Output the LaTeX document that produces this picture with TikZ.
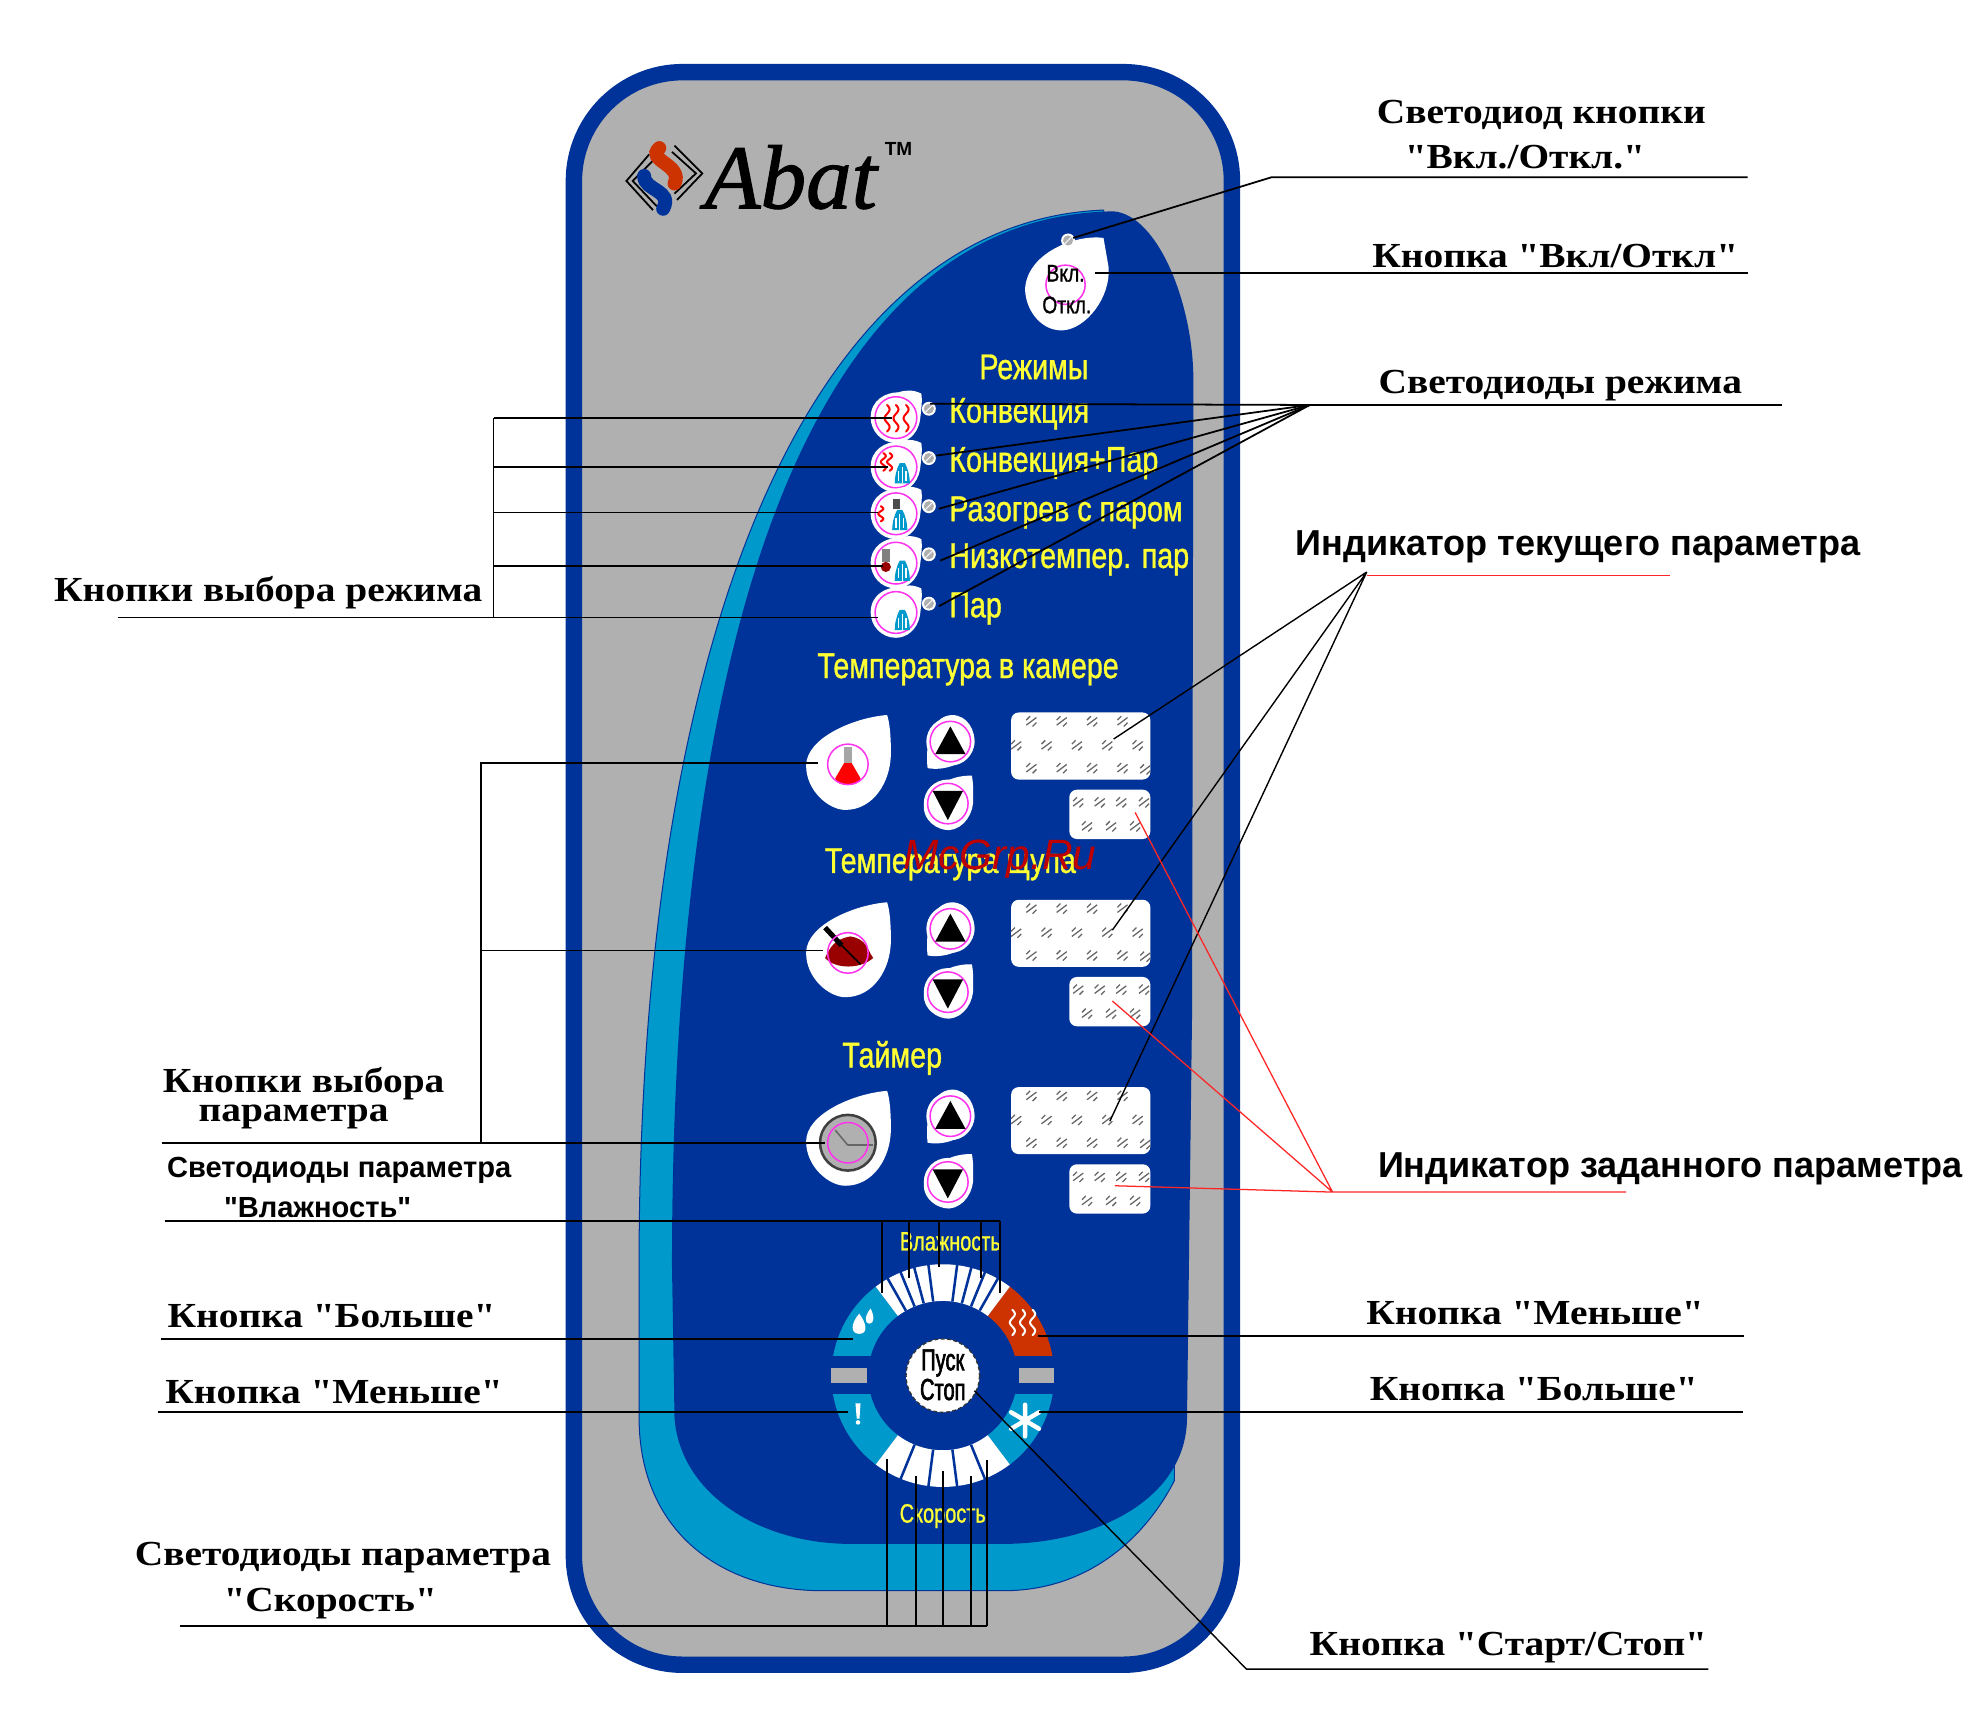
\documentclass[tikz,border=0pt]{standalone}
\usepackage{fontspec}
\setmainfont{Liberation Serif}
\newfontfamily\labfont[FakeStretch=1.12]{Liberation Serif}
\newfontfamily\sansb{Liberation Sans}
\newfontfamily\yfont[FakeStretch=0.8,FakeBold=1]{Liberation Sans}
\newfontfamily\nfont[FakeStretch=0.75,FakeBold=1]{Liberation Sans}
\newfontfamily\bfont[FakeStretch=0.8,FakeBold=1]{Liberation Sans}
\newfontfamily\pfont[FakeStretch=0.66,FakeBold=2]{Liberation Sans}
\newfontfamily\abatfont[FakeBold=1.2]{Liberation Serif}
\definecolor{pblue}{HTML}{003399}
\definecolor{pcyan}{HTML}{0099CC}
\definecolor{pgrey}{HTML}{B0B0B0}
\definecolor{pred}{HTML}{CC3300}
\definecolor{pyel}{HTML}{FFFF33}
\definecolor{pmag}{HTML}{FF33EE}
\tikzset{
  lab/.style={font=\labfont\bfseries\fontsize{27.8}{27.8}\selectfont,inner sep=0pt,yshift=-2pt},
  sbold/.style={font=\sansb\bfseries\fontsize{28.5}{28.5}\selectfont,inner sep=0pt,yshift=-2.5pt},
  smid/.style={font=\sansb\bfseries\fontsize{23}{23}\selectfont,inner sep=0pt,yshift=-2pt},
  ytext/.style={font=\yfont\fontsize{28.3}{28.3}\selectfont,text=pyel,inner sep=0pt,yshift=-2pt},
  ynarrow/.style={font=\nfont\fontsize{21}{21}\selectfont,text=pyel,inner sep=0pt},
  btext/.style={font=\bfont\fontsize{19}{19}\selectfont,inner sep=0pt},
  ptext/.style={font=\pfont\fontsize{24}{24}\selectfont,inner sep=0pt},
  conn/.style={draw=black,line width=1.4pt},
  redconn/.style={draw=red!85,line width=1pt},
  ring/.style={draw=pmag,line width=1.2pt},
}
\newcommand{\wavy}[4]{\draw[#4,line width=1.6pt,line cap=round] plot[domain=0:1,samples=18] ({#1+2*sin(\x*540)},{#2+\x*#3});}
\newcommand{\bigblob}[2]{\fill[white,shift={(#1,#2)}] (31,-38) .. controls (5,-36) and (-33,-20) .. (-33,2) .. controls (-33,22) and (-15,37) .. (-2,37) .. controls (20,37) and (34,15) .. (34,-8) .. controls (34,-22) and (33,-32) .. (31,-38) -- cycle;}
\newcommand{\updown}[2]{%
  \begin{scope}[shift={(0,#1)}]
    \fill[white] (733,607) .. controls (731,590) and (735,566) .. (752,565) .. controls (765,565) and (771,578) .. (770,588) .. controls (768,600) and (750,610) .. (733,607) -- cycle;
    \fill[white] (751,586) circle[radius=19];
    \draw[ring] (751,586) circle[radius=16];
    \fill[black] (751,574) -- (763,596) -- (739,596) -- cycle;
  \end{scope}
  \begin{scope}[shift={(0,#2)}]
    \fill[white] (768,613) .. controls (750,612) and (730,625) .. (730,638) .. controls (730,648) and (740,656) .. (750,656) .. controls (762,655) and (770,642) .. (769,630) .. controls (769,622) and (769,618) .. (768,613) -- cycle;
    \fill[white] (749,635) circle[radius=19];
    \draw[ring] (749,635) circle[radius=16];
    \fill[black] (749,648) -- (761,625) -- (737,625) -- cycle;
  \end{scope}}
\newcommand{\spk}[2]{\draw[black!60,line width=1pt] (#1-4,#2+3) -- (#1+4,#2-3) (#1-4,#2-1) -- (#1-1,#2-4) (#1+1,#2+4) -- (#1+4,#2+1);}
\newcommand{\lcd}[1]{%
  \begin{scope}[shift={(0,#1)}]
    \fill[white,rounded corners=6pt] (799,563) rectangle (909,616);
    \foreach \a in {815,839,863,887} {\spk{\a}{570}\spk{\a}{607}}
    \foreach \a in {803,827,851,875,899} {\spk{\a}{589}}
    \spk{905}{608}
  \end{scope}}
\newcommand{\lcds}[1]{%
  \begin{scope}[shift={(0,#1)}]
    \fill[white,rounded corners=6pt] (845,624) rectangle (909,663);
    \foreach \a in {852,869,886,904} {\spk{\a}{634}}
    \foreach \a in {859,878,897} {\spk{\a}{653}}
  \end{scope}}
\newcommand{\modebtn}[2]{%
  \fill[white,shift={(#1,#2)}] (-20,0) .. controls (-20,-14) and (-8,-20) .. (2,-20) .. controls (8,-22) and (14,-22) .. (20,-19) .. controls (21,-14) and (20,-6) .. (19,2) .. controls (17,14) and (8,20) .. (0,20) .. controls (-12,20) and (-20,10) .. (-20,0) -- cycle;
  \draw[ring,shift={(#1,#2)}] (0,0) circle[radius=16.5];}
\newcommand{\led}[2]{\fill[white] (#1,#2) circle[radius=5.5]; \fill[pgrey] (#1,#2) circle[radius=4]; \draw[white,line width=.7pt] (#1-3,#2+3) -- (#1+3,#2-3);}
\newcommand{\steam}[2]{\fill[pcyan,shift={(#1,#2)}] (-2,-8) -- (2,-8) .. controls (5,-3) and (6,4) .. (6,8) -- (-6,8) .. controls (-6,4) and (-5,-3) .. (-2,-8) -- cycle; \draw[white,line width=1pt,shift={(#1,#2)}] (0,-5) -- (0,8) (-3,-2) -- (-3,6) (3,-2) -- (3,6);}
\newcommand{\seg}[3]{\fill[#3] plot[domain=#1:#2,samples=30] ({745+88*cos(\x)},{1087-88*sin(\x)}) -- plot[domain=#2:#1,samples=30] ({745+59*cos(\x)},{1087-59*sin(\x)}) -- cycle;}
\newcommand{\spoke}[1]{\draw[pblue,line width=2pt] ({745+59*cos(#1)},{1087-59*sin(#1)}) -- ({745+90*cos(#1)},{1087-90*sin(#1)});}
\begin{document}
\begin{tikzpicture}[x=1pt,y=1pt,yscale=-1]
\useasboundingbox (0,0) rectangle (1567,1353);
\fill[white] (0,0) rectangle (1567,1353);
% panel
\draw[pblue,fill=pgrey,line width=13pt,rounded corners=86pt] (453.5,57) rectangle (973.5,1315.5);
% cyan and blue fields
\draw[pblue,line width=.8pt,fill=pcyan] (872,166) .. controls (640,175) and (505,500) .. (505,1000) -- (505,1120) .. controls (505,1210) and (570,1257) .. (650,1257) -- (793,1257) .. controls (860,1257) and (905,1215) .. (928,1170) -- (930,400) -- cycle;
\fill[pblue] (880,167) .. controls (640,170) and (531,500) .. (531,1000) -- (533,1120) .. controls (537,1180) and (600,1220) .. (672,1220) -- (793,1220) .. controls (865,1220) and (938,1185) .. (938,1120) -- (942,800) -- (943,300) .. controls (943,240) and (915,170) .. (880,167) -- cycle;
% logo
\draw[black,line width=1.4pt] (513,122) -- (495,143) -- (516,166) (517,126) -- (500,143) -- (519,163);
\draw[black,line width=1.4pt] (533,115) -- (555,137) -- (535,158) (531,120) -- (550,137) -- (533,153);
\draw[pred,line width=11pt,line cap=round] (521,117) .. controls (510,127) and (540,130) .. (533,145);
\draw[pblue,line width=11pt,line cap=round] (509,139) .. controls (509,151) and (532,150) .. (524,165);
\node[font=\abatfont\itshape\fontsize{72}{72}\selectfont,inner sep=0pt] (abat) at (625,140) {Abat};
\node[font=\sansb\bfseries\fontsize{15}{15}\selectfont,inner sep=0pt] (tm) at (710,118) {ТМ};
% on/off button
\fill[white] (872,188) .. controls (850,185) and (811,200) .. (810,229) .. controls (811,248) and (825,262) .. (840,261) .. controls (858,260) and (878,235) .. (876,211) -- cycle;
\led{844}{190}
\draw[ring] (842,225) circle[radius=15.5];
\node[btext] (vkl) at (842,216) {Вкл.};
\node[btext] (otkl) at (843,241) {Откл.};
% modes
\node[ytext] (rezh) at (817,288) {Режимы};
\foreach \yy/\ly in {330/323,369/362,406/400,445/438,484/477} {\modebtn{708}{\yy}\led{734}{\ly}}
\wavy{701}{320}{21}{red}\wavy{708}{320}{21}{red}\wavy{716}{320}{21}{red}
\wavy{703}{358}{14}{red}\wavy{698}{358}{14}{red}\steam{713}{374}
\wavy{696}{400}{12}{red}\fill[black!70] (706,394) rectangle (711,402);\steam{711}{411}
\fill[black!50] (697,434) rectangle (703,444);\fill[red!60!black] (700,448) circle[radius=4];\steam{713}{451}
\steam{713}{490}
\node[ytext,anchor=west] (t1) at (750,325) {Конвекция};
\node[ytext,anchor=west] (t2) at (750,364) {Конвекция+Пар};
\node[ytext,anchor=west] (t3) at (750,403) {Разогрев с паром};
\node[ytext,anchor=west] (t4) at (750,440) {Низкотемпер. пар};
\node[ytext,anchor=west] (t5) at (750,479) {Пар};
\node[ytext] (ta) at (765,527) {Температура в камере};
\node[ytext] (tb) at (751,681) {Температура щупа};
\node[ytext] (tc) at (705,834) {Таймер};
% big buttons
\bigblob{670}{603}\bigblob{670}{751}\bigblob{670}{900}
\fill[black!35] (667,590) rectangle (673,605);
\fill[red] (667,603) -- (673,603) -- (680,615) .. controls (680,622) and (660,622) .. (660,615) -- cycle;
\draw[ring] (670,604) circle[radius=16];
\fill[red!60!black] (652,757) .. controls (656,748) and (660,742) .. (672,740) .. controls (685,742) and (685,750) .. (690,757) .. controls (680,766) and (660,766) .. (652,757) -- cycle;
\draw[black,line width=4pt] (652,733) -- (665,747);
\draw[black,line width=1.2pt] (665,747) -- (680,762);
\draw[ring] (670,753) circle[radius=16];
\fill[pgrey] (670,903) circle[radius=22];
\draw[black!75,line width=2pt] (670,903) circle[radius=22];
\draw[black!60,line width=1.2pt] (660,893) -- (670,905);
\draw[black!60,line width=1.6pt] (670,905) -- (690,905);
\draw[ring] (670,903) circle[radius=16];
\updown{0}{0}\updown{148}{149}\updown{296}{299}
\lcd{0}\lcd{148}\lcd{296}
\lcds{0}\lcds{148}\lcds{296}
% dial
\begin{scope}
\clip (640,980) rectangle (850,1071);
\seg{127}{180}{pcyan}
\seg{0}{53}{pred}
\end{scope}
\begin{scope}
\clip (640,1102) rectangle (850,1190);
\seg{180}{233}{pcyan}
\seg{307}{360}{pcyan}
\end{scope}
\seg{53}{127}{white}
\seg{233}{307}{white}
\foreach \a in {60.4,67.8,75.2,82.6,97.4,104.8,112.2,119.6} {\spoke{\a}}
\foreach \a in {247.8,262.6,277.4,292.2} {\spoke{\a}}
\fill[pgrey] (657,1081) rectangle (685,1093);
\fill[pgrey] (805,1081) rectangle (833,1093);
\fill[white] (679,1054) .. controls (672,1054) and (672,1046) .. (679,1038) .. controls (685,1046) and (686,1054) .. (679,1054) -- cycle;
\fill[white] (687,1046) .. controls (683,1046) and (683,1040) .. (688,1034) .. controls (691,1040) and (691,1046) .. (687,1046) -- cycle;
\fill[white] (676,1109) -- (680,1109) -- (679.2,1121) -- (677,1121) -- cycle;
\fill[white] (678,1124) circle[radius=1.8];
\draw[white,line width=3.5pt,line cap=round] (810,1110) -- (810,1135) (799,1116) -- (821,1129) (799,1129) -- (821,1116);
\foreach \a in {800,808,816} {\wavy{\a}{1035}{20}{white}}
\fill[white] (745,1087) circle[radius=29];
\draw[black!80,line width=1pt,densely dashed] (745,1087) circle[radius=29];
\node[ptext] (pusk) at (745,1077) {Пуск};
\node[ptext] (stop) at (745,1098) {Стоп};
\node[ynarrow] (vl) at (751,981) {Влажность};
\node[ynarrow] (sk) at (745,1198) {Скорость};
% labels
\node[lab] (l1) at (1218,89) {Светодиод кнопки};
\node[lab] (l1b) at (1205,122) {"Вкл./Откл."};
\node[lab] (l2) at (1229,200) {Кнопка "Вкл/Откл"};
\node[lab] (l3) at (1233,303) {Светодиоды режима};
\node[sbold] (l4) at (1247,430) {Индикатор текущего параметра};
\node[sbold] (l5) at (1320,921) {Индикатор заданного параметра};
\node[lab] (l6) at (212,466) {Кнопки выбора режима};
\node[lab,anchor=base,text height=13pt,text depth=0pt] (l7) at (240,861) {Кнопки выбора};
\node[lab,anchor=base,text height=9pt,text depth=0pt] (l7b) at (232,884) {параметра};
\node[smid] (l8) at (268,923) {Светодиоды параметра};
\node[smid] (l8b) at (251,952) {"Влажность"};
\node[lab] (l9) at (262,1038) {Кнопка "Больше"};
\node[lab] (l10) at (264,1098) {Кнопка "Меньше"};
\node[lab] (l11) at (1213,1036) {Кнопка "Меньше"};
\node[lab] (l12) at (1212,1096) {Кнопка "Больше"};
\node[lab] (l13) at (271,1229) {Светодиоды параметра};
\node[lab] (l13b) at (261,1265) {"Скорость"};
\node[lab] (l14) at (1192,1300) {Кнопка "Старт/Стоп"};
% connectors: top right
\coordinate (ledon) at (848,188);
\coordinate (a1) at (1005,140);
\coordinate (a1e) at (1381,140);
\draw[conn] (a1e) -- (a1) -- (ledon);
\coordinate (on) at (865,216);
\coordinate (one) at (1381,216);
\draw[conn] (one) -- (on);
% mode LEDs fan
\coordinate (f) at (1035,320);
\coordinate (fe) at (1408,320);
\draw[conn] (fe) -- (f);
\foreach \x/\y in {735/319,740/360,742/402,743/443,742/479} {\coordinate (m) at (\x,\y); \draw[conn] (f) -- (m);}
% mode buttons
\coordinate (g1) at (390,330);
\coordinate (g5) at (390,488);
\coordinate (g0) at (93,488);
\draw[conn] (g0) -- (g5) -- (g1);
\foreach \y/\x in {330/705,369/702,405/694,447/698,488/694} {\coordinate (gs) at (390,\y); \coordinate (ge) at (\x,\y); \draw[conn] (gs) -- (ge);}
% current parameter
\coordinate (h) at (1080,452);
\coordinate (h1) at (880,584);\coordinate (h2) at (879,735);\coordinate (h3) at (877,886);
\draw[conn,line width=1.1pt] (h) -- (h1) (h) -- (h2) (h) -- (h3);
% preset parameter
\coordinate (r0) at (1080,455);\coordinate (r0e) at (1320,455);
\draw[redconn] (r0) -- (r0e);
\coordinate (k) at (1053,942);\coordinate (ke) at (1285,942);
\coordinate (k1) at (897,642);\coordinate (k2) at (879,791);\coordinate (k3) at (881,937);
\draw[redconn] (ke) -- (k) -- (k1) (k) -- (k2) (k) -- (k3);
% parameter buttons
\coordinate (p1) at (380,603);\coordinate (p1e) at (646,603);
\coordinate (p2) at (380,751);\coordinate (p2e) at (650,751);
\coordinate (p3) at (380,903);\coordinate (p3e) at (652,903);\coordinate (p0) at (128,903);
\draw[conn] (p1e) -- (p1) -- (p3) (p2) -- (p2e) (p0) -- (p3e);
% humidity
\coordinate (v0) at (130,965);\coordinate (v1) at (790,965);
\draw[conn] (v0) -- (v1);
\foreach \x/\y in {697/1022,718/1010,742/1001,775/1010,790/1022} {\coordinate (vt) at (\x,965);\coordinate (vb) at (\x,\y);\draw[conn] (vt) -- (vb);}
% side buttons
\coordinate (b1) at (127,1058);\coordinate (b1e) at (674,1058);\draw[conn] (b1) -- (b1e);
\coordinate (b2) at (125,1116);\coordinate (b2e) at (670,1116);\draw[conn] (b2) -- (b2e);
\coordinate (b3) at (1378,1056);\coordinate (b3e) at (820,1056);\draw[conn] (b3) -- (b3e);
\coordinate (b4) at (1377,1116);\coordinate (b4e) at (821,1116);\draw[conn] (b4) -- (b4e);
% speed
\coordinate (s0) at (142,1285);\coordinate (s1) at (780,1285);\draw[conn] (s0) -- (s1);
\foreach \x/\y in {701/1153,724/1166,745/1162,767/1166,780/1154} {\coordinate (st) at (\x,1285);\coordinate (sb) at (\x,\y);\draw[conn] (st) -- (sb);}
% start stop
\coordinate (c0) at (1350,1319);\coordinate (c1) at (985,1319);\coordinate (c2) at (770,1099);
\draw[conn,line width=1.1pt] (c0) -- (c1) -- (c2);
% watermark
\node[font=\sansb\itshape\fontsize{33.5}{33.5}\selectfont,text=red!75!black,inner sep=0pt] (wm) at (790,679) {McGrp.Ru};
\end{tikzpicture}
\end{document}
